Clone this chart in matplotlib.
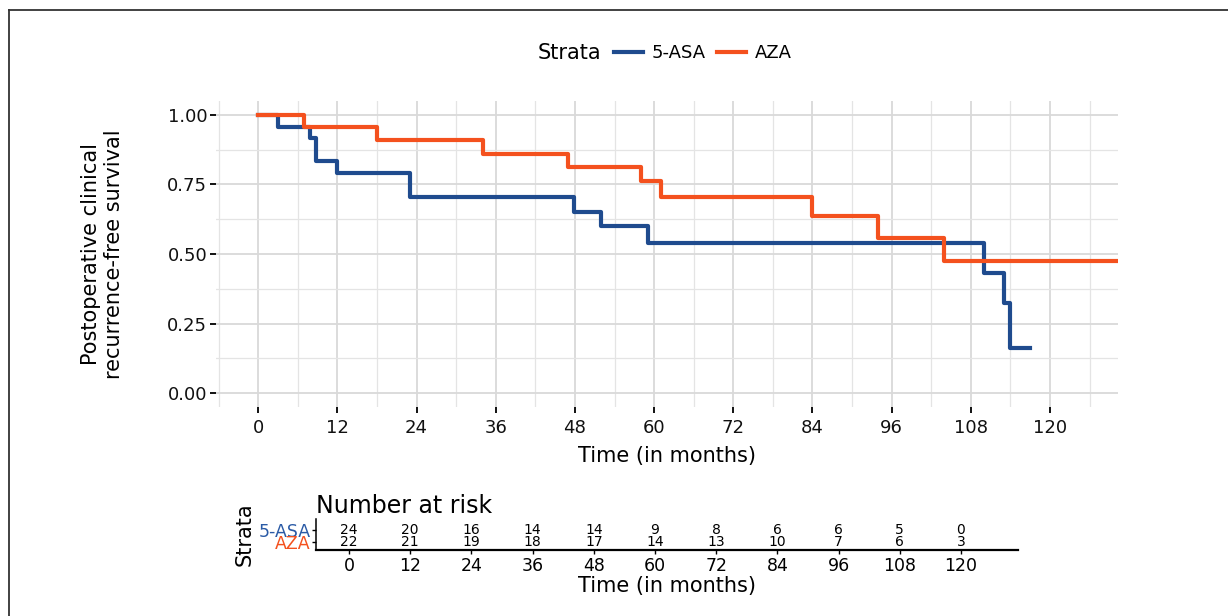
import matplotlib
matplotlib.use("Agg")
import matplotlib.pyplot as plt
from matplotlib.lines import Line2D
from matplotlib.ticker import MultipleLocator

# Kaplan-Meier steps
asa_time = [0, 3, 7.8, 8.8, 12, 23, 47.9, 52, 59, 110, 113, 114, 117]
asa_surv = [1.0, 0.958, 0.917, 0.833, 0.792, 0.704, 0.651, 0.601, 0.541,
            0.433, 0.325, 0.162, 0.162]

aza_time = [0, 7, 18, 34, 47, 58, 61, 84, 94, 104, 132]
aza_surv = [1.0, 0.955, 0.909, 0.861, 0.812, 0.761, 0.706, 0.636, 0.556,
            0.476, 0.476]

# Number at risk table
risk_time = [0, 12, 24, 36, 48, 60, 72, 84, 96, 108, 120, 132]
risk_asa = [24, 20, 16, 14, 14, 9, 8, 6, 6, 5, 0, 0]
risk_aza = [22, 21, 19, 18, 17, 14, 13, 10, 7, 6, 3, 1]

x_ticks = list(range(0, 121, 12))
y_ticks = [0.0, 0.25, 0.5, 0.75, 1.0]

BLUE = "#1F4B8E"
ORANGE = "#F4511E"
GRID = "#d9d9d9"

plt.rcParams["font.family"] = ["DejaVu Sans"]

W, H = 1228, 616
fig = plt.figure(figsize=(W / 100, H / 100), dpi=100)
fig.patch.set_facecolor("white")

# --- main survival panel ---
ax = fig.add_axes([216 / W, 1 - 407 / H, 902 / W, 306 / H])
l_asa, = ax.step(asa_time, asa_surv, where="post", color=BLUE, lw=3.0,
                 label="5-ASA", zorder=3)
l_aza, = ax.step(aza_time, aza_surv, where="post", color=ORANGE, lw=3.0,
                 label="AZA", zorder=4)

ax.set_xlim(-6.4, 130.3)
ax.set_ylim(-0.05, 1.05)
ax.set_xticks(x_ticks)
ax.set_yticks(y_ticks)
ax.set_yticklabels([f"{v:.2f}" for v in y_ticks])
ax.xaxis.set_minor_locator(MultipleLocator(6))
ax.yaxis.set_minor_locator(MultipleLocator(0.125))
ax.grid(which="major", color=GRID, lw=1.3, zorder=0)
ax.grid(which="minor", color="#e4e4e4", lw=0.9, zorder=0)
ax.tick_params(which="minor", length=0)
ax.tick_params(which="major", length=4.3, width=1.4, color="#111111",
               labelsize=13, labelcolor="#111111")
ax.tick_params(axis="x", pad=4)
ax.tick_params(axis="y", pad=2)
for spine in ax.spines.values():
    spine.set_visible(False)
ax.set_axisbelow(True)

ax.set_xlabel("Time (in months)", fontsize=15, labelpad=7)
ax.set_ylabel("Postoperative clinical\nrecurrence-free survival",
              fontsize=15, labelpad=31, linespacing=1.2)

# legend across the top
fig.text(538 / W, 1 - 53 / H, "Strata", fontsize=15, ha="left", va="center")
fig.legend(handles=[l_asa, l_aza], loc="center left",
           bbox_to_anchor=(614 / W, 1 - 53 / H), ncol=2, frameon=False,
           fontsize=13, handlelength=1.6, handletextpad=0.5,
           columnspacing=0.6, borderpad=0, borderaxespad=0)

# --- number at risk table ---
tab = fig.add_axes([316 / W, 1 - 550 / H, 702 / W, 31 / H])
tab.set_xlim(-6.47, 131.2)
tab.set_ylim(0.42, 2.81)
for t, a, b in zip(risk_time, risk_asa, risk_aza):
    tab.text(t, 2, str(a), ha="center", va="center", fontsize=10,
             clip_on=True)
    tab.text(t, 1, str(b), ha="center", va="center", fontsize=10,
             clip_on=True)

tab.set_xticks(x_ticks)
tab.set_yticks([2, 1])
tab.set_yticklabels(["5-ASA", "AZA"], fontsize=12.5)
tab.get_yticklabels()[0].set_color("#2B5BA6")
tab.get_yticklabels()[1].set_color(ORANGE)
tab.tick_params(axis="x", length=3, width=1, labelsize=12.5, pad=2)
tab.tick_params(axis="y", length=3, width=1, pad=1)
tab.spines["top"].set_visible(False)
tab.spines["right"].set_visible(False)
tab.spines["left"].set_linewidth(1.1)
tab.spines["bottom"].set_linewidth(1.6)
tab.set_title("Number at risk", loc="left", fontsize=17, pad=4)
tab.set_xlabel("Time (in months)", fontsize=15, labelpad=1)
tab.set_ylabel("Strata", fontsize=15, labelpad=3)

# outer frame (top and left edges only, as in the cropped original)
fig.add_artist(Line2D([9 / W, 1], [1 - 10 / H, 1 - 10 / H],
                      transform=fig.transFigure, color="#333333", lw=1.3))
fig.add_artist(Line2D([9 / W, 9 / W], [0, 1 - 10 / H],
                      transform=fig.transFigure, color="#333333", lw=1.3))

fig.savefig("out.png", dpi=100, facecolor=fig.get_facecolor())
plt.close(fig)
